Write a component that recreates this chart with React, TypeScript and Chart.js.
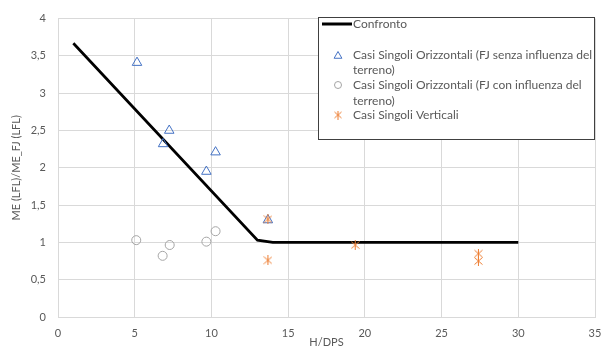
import React, { useEffect, useRef } from 'react';
import { Chart, registerables } from 'chart.js';
Chart.register(...registerables);

// Confronto (reference curve)
const lineX = [1, 13, 14, 30];
const lineY = [3.67, 1.03, 1.0, 1.0];
// Casi Singoli Orizzontali (FJ senza influenza del terreno)
const triX = [5.15, 7.25, 6.85, 10.27, 9.67, 13.68];
const triY = [3.41, 2.5, 2.32, 2.21, 1.95, 1.3];
// Casi Singoli Orizzontali (FJ con influenza del terreno)
const circX = [5.1, 7.28, 6.82, 9.67, 10.27];
const circY = [1.03, 0.965, 0.82, 1.01, 1.15];
// Casi Singoli Verticali
const starX = [13.68, 13.68, 19.37, 27.4, 27.4];
const starY = [1.31, 0.76, 0.965, 0.85, 0.75];

const seriesNames = [
  'Confronto',
  'Casi Singoli Orizzontali (FJ senza influenza del terreno)',
  'Casi Singoli Orizzontali (FJ con influenza del terreno)',
  'Casi Singoli Verticali',
];
const legendLines = [
  ['Confronto'],
  ['Casi Singoli Orizzontali (FJ senza influenza del', 'terreno)'],
  ['Casi Singoli Orizzontali (FJ con influenza del', 'terreno)'],
  ['Casi Singoli Verticali'],
];
const xTitle = 'H/DPS';
const yTitle = 'ME (LFL)/ME_FJ (LFL)';

const BLUE = '#4472C4';
const GRAY = '#A5A5A5';
const ORANGE = '#ED7D31';
const TEXT = '#595959';
const GRID = '#D9D9D9';
const FONT = 'Lato, "Open Sans", sans-serif';

const zip = (xs: number[], ys: number[]) => xs.map((x, i) => ({ x, y: ys[i] }));

function makeStar(w: number, h: number, color: string) {
  const c = document.createElement('canvas');
  c.width = w;
  c.height = h;
  const g = c.getContext('2d')!;
  g.strokeStyle = color;
  g.lineWidth = 1;
  g.beginPath();
  g.moveTo(0.5, 1.5);
  g.lineTo(w - 0.5, h - 1.5);
  g.moveTo(w - 0.5, 1.5);
  g.lineTo(0.5, h - 1.5);
  g.moveTo(w / 2, 0);
  g.lineTo(w / 2, h);
  g.stroke();
  return c;
}

const legendPlugin = {
  id: 'boxLegend',
  afterDraw(chart: any) {
    const ctx = chart.ctx as CanvasRenderingContext2D;
    ctx.save();
    const bx = 318, by = 17, bw = 276, bh = 122;
    ctx.fillStyle = '#ffffff';
    ctx.fillRect(bx, by, bw, bh);
    ctx.strokeStyle = '#404040';
    ctx.lineWidth = 1;
    ctx.strokeRect(bx + 0.5, by + 0.5, bw, bh);

    const mx = 338;
    const tx = 353;
    const rowsY = [[24], [55, 70], [85, 101], [115]];
    // line sample
    ctx.strokeStyle = '#000';
    ctx.lineWidth = 3;
    ctx.beginPath();
    ctx.moveTo(322, 24);
    ctx.lineTo(352, 24);
    ctx.stroke();
    // triangle
    ctx.lineWidth = 1;
    ctx.strokeStyle = BLUE;
    const r = 4.5;
    ctx.beginPath();
    for (let k = 0; k < 3; k++) {
      const a = (k * 2 * Math.PI) / 3;
      const px = mx + Math.sin(a) * r;
      const py = 56 - Math.cos(a) * r;
      if (k === 0) ctx.moveTo(px, py);
      else ctx.lineTo(px, py);
    }
    ctx.closePath();
    ctx.stroke();
    // circle
    ctx.strokeStyle = GRAY;
    ctx.beginPath();
    ctx.arc(mx, 85, 3.5, 0, Math.PI * 2);
    ctx.stroke();
    // star
    ctx.drawImage(makeStar(8, 9, ORANGE), mx - 4, 115 - 4.5);

    ctx.fillStyle = TEXT;
    ctx.font = '12px ' + FONT;
    ctx.textBaseline = 'middle';
    ctx.textAlign = 'left';
    legendLines.forEach((lines, i) => {
      lines.forEach((t, j) => ctx.fillText(t, tx, rowsY[i][j]));
    });
    ctx.restore();
  },
};

export default function App() {
  const ref = useRef<HTMLCanvasElement>(null);
  useEffect(() => {
    const star = makeStar(9, 10, ORANGE);
    const chart = new Chart(ref.current!, {
      type: 'scatter',
      data: {
        datasets: [
          {
            label: seriesNames[0],
            data: zip(lineX, lineY),
            showLine: true,
            borderColor: '#000',
            borderWidth: 2.75,
            pointRadius: 0,
            order: 4,
          },
          {
            label: seriesNames[1],
            data: zip(triX, triY),
            pointStyle: 'triangle',
            pointRadius: 5.5,
            borderColor: BLUE,
            backgroundColor: 'rgba(0,0,0,0)',
            borderWidth: 1,
            order: 3,
          },
          {
            label: seriesNames[2],
            data: zip(circX, circY),
            pointStyle: 'circle',
            pointRadius: 4.5,
            borderColor: GRAY,
            backgroundColor: 'rgba(0,0,0,0)',
            borderWidth: 1,
            order: 2,
          },
          {
            label: seriesNames[3],
            data: zip(starX, starY),
            pointStyle: star as any,
            pointRadius: 5,
            borderColor: ORANGE,
            backgroundColor: ORANGE,
            order: 1,
          },
        ],
      },
      options: {
        responsive: false,
        animation: false,
        layout: { padding: { top: 17, right: 19, left: 0, bottom: 0 } },
        plugins: { legend: { display: false }, tooltip: { enabled: false } },
        scales: {
          x: {
            type: 'linear',
            min: 0,
            max: 35,
            ticks: { stepSize: 5, padding: 10, color: TEXT, font: { family: FONT, size: 11 } },
            grid: { color: GRID, drawTicks: false },
            border: { color: GRID },
            title: { display: true, text: xTitle, color: TEXT, font: { family: FONT, size: 11 }, padding: { top: 0, bottom: 0 } },
            afterFit: (s: any) => { s.height = 32; },
          },
          y: {
            type: 'linear',
            min: 0,
            max: 4,
            ticks: {
              stepSize: 0.5,
              padding: 12,
              color: TEXT,
              font: { family: FONT, size: 11 },
              callback: (v: any) => String(v).replace('.', ','),
            },
            grid: { color: GRID, drawTicks: false },
            border: { color: GRID },
            title: { display: true, text: yTitle, color: TEXT, font: { family: FONT, size: 11 }, padding: { top: 10, bottom: 0 } },
            afterFit: (s: any) => { s.width = 58; },
          },
        },
      },
      plugins: [legendPlugin],
    });
    return () => chart.destroy();
  }, []);
  return (
    <div style={{ position: 'fixed', left: 0, top: 0, width: 614, height: 349, background: '#fff' }}>
      <canvas ref={ref} width={614} height={349} style={{ display: 'block' }} />
    </div>
  );
}
